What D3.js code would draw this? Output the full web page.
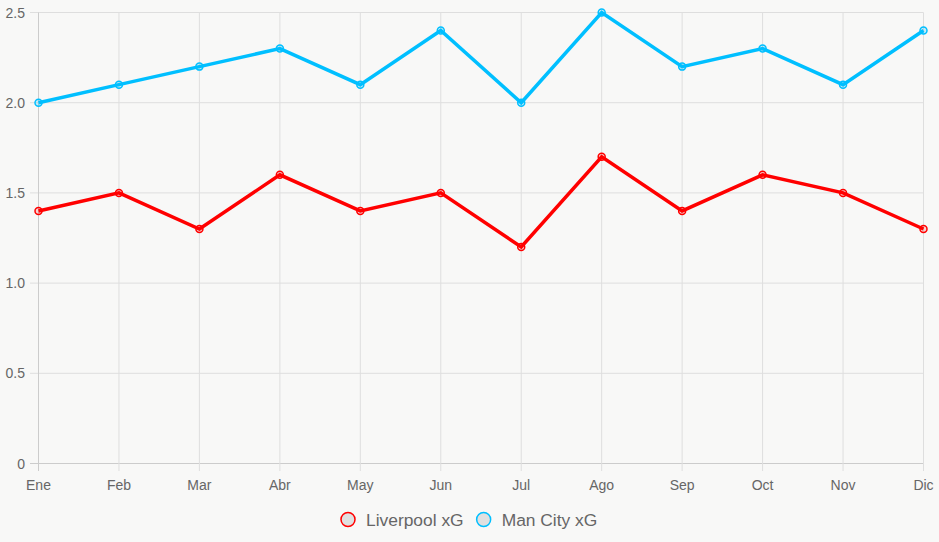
<!DOCTYPE html>
<html>
<head>
<meta charset="utf-8">
<script src="https://cdn.jsdelivr.net/npm/d3@7"></script>
<style>
  html, body { margin: 0; padding: 0; background: #f8f8f7; }
  svg { display: block; font-family: "Liberation Sans", Arial, sans-serif; }
</style>
</head>
<body>
<svg id="chart"></svg>
<script>
const months = ['Ene', 'Feb', 'Mar', 'Abr', 'May', 'Jun', 'Jul', 'Ago', 'Sep', 'Oct', 'Nov', 'Dic'];
const liverpoolXG = [1.4, 1.5, 1.3, 1.6, 1.4, 1.5, 1.2, 1.7, 1.4, 1.6, 1.5, 1.3];
const cityXG = [2.0, 2.1, 2.2, 2.3, 2.1, 2.4, 2.0, 2.5, 2.2, 2.3, 2.1, 2.4];
const yTicks = [0, 0.5, 1.0, 1.5, 2.0, 2.5];
const seriesNames = ['Liverpool xG', 'Man City xG'];

const width = 939, height = 542;
const svg = d3.select('#chart').attr('width', width).attr('height', height);

const x = d3.scalePoint().domain(months).range([38.5, 923.5]);
const y = d3.scaleLinear().domain([0, 2.5]).range([463.5, 12.5]);

// grid
svg.append('g')
  .selectAll('line')
  .data(yTicks)
  .enter().append('line')
  .attr('x1', 30).attr('x2', 923.5)
  .attr('y1', d => y(d)).attr('y2', d => y(d))
  .attr('stroke', d => d === 0 ? '#cccccc' : '#dedede');

svg.append('g')
  .selectAll('line')
  .data(months)
  .enter().append('line')
  .attr('x1', d => x(d)).attr('x2', d => x(d))
  .attr('y1', 12.5).attr('y2', 471)
  .attr('stroke', (d, i) => i === 0 ? '#cccccc' : '#dedede');

// tick labels
svg.append('g')
  .selectAll('text')
  .data(yTicks)
  .enter().append('text')
  .attr('x', 25).attr('y', d => y(d) + 5)
  .attr('text-anchor', 'end')
  .attr('font-size', 14).attr('fill', '#666')
  .text(d => d === 0 ? '0' : d.toFixed(1));

svg.append('g')
  .selectAll('text')
  .data(months)
  .enter().append('text')
  .attr('x', d => x(d)).attr('y', 490)
  .attr('text-anchor', 'middle')
  .attr('font-size', 14).attr('fill', '#666')
  .text(d => d);

// lines
const series = [
  { name: seriesNames[0], values: liverpoolXG, color: '#ff0000', fill: 'rgba(255,0,0,0.15)' },
  { name: seriesNames[1], values: cityXG, color: '#00bfff', fill: 'rgba(0,191,255,0.2)' }
];

const line = d3.line()
  .x((d, i) => x(months[i]))
  .y(d => y(d));

series.forEach(s => {
  svg.append('path')
    .datum(s.values)
    .attr('d', line)
    .attr('fill', 'none')
    .attr('stroke', s.color)
    .attr('stroke-width', 3.5)
    .attr('stroke-linejoin', 'miter');

  svg.append('g')
    .selectAll('circle')
    .data(s.values)
    .enter().append('circle')
    .attr('cx', (d, i) => x(months[i]))
    .attr('cy', d => y(d))
    .attr('r', 3.5)
    .attr('fill', s.fill)
    .attr('stroke', s.color)
    .attr('stroke-width', 1.5);
});

// legend
const legend = svg.append('g');
let lx = 348;
series.forEach(s => {
  legend.append('circle')
    .attr('cx', lx).attr('cy', 519.5)
    .attr('r', 7)
    .attr('fill', '#e0e0e0')
    .attr('stroke', s.color)
    .attr('stroke-width', 1.5);
  const t = legend.append('text')
    .attr('x', lx + 18).attr('y', 525.5)
    .attr('font-size', 17.4).attr('fill', '#666')
    .text(s.name);
  lx += 18 + t.node().getComputedTextLength() + 20;
});
</script>
</body>
</html>
